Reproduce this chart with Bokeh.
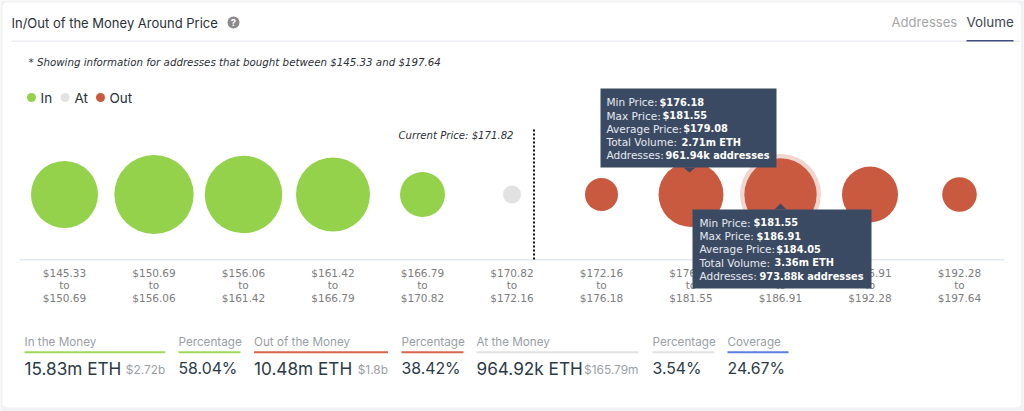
from bokeh.plotting import figure
from bokeh.models import (FactorRange, Range1d, Label, BoxAnnotation, PolyAnnotation, ColumnDataSource)
from bokeh.embed import file_html
from bokeh.resources import INLINE
import math

# ---- data ----
bin_edges = ["145.33", "150.69", "156.06", "161.42", "166.79", "170.82",
             "172.16", "176.18", "181.55", "186.91", "192.28", "197.64"]
volumes = [2.89, 4.04, 3.86, 3.52, 1.30, 0.21, 0.70, 2.71, 3.36, 2.02, 0.77]
status = ["In", "In", "In", "In", "In", "At", "Out", "Out", "Out", "Out", "Out"]
current_price = 171.82
highlight = "$181.55\nto\n$186.91"

tip_a = [("Min Price: ", "$176.18"), ("Max Price: ", "$181.55"), ("Average Price: ", "$179.08"),
         ("Total Volume: ", "2.71m ETH"), ("Addresses: ", "961.94k addresses")]
tip_b = [("Min Price: ", "$181.55"), ("Max Price: ", "$186.91"), ("Average Price: ", "$184.05"),
         ("Total Volume: ", "3.36m ETH"), ("Addresses: ", "973.88k addresses")]

stat_titles = ["In the Money", "Percentage", "Out of the Money", "Percentage",
               "At the Money", "Percentage", "Coverage"]
stat_values = ["15.83m ETH", "58.04%", "10.48m ETH", "38.42%", "964.92k ETH", "3.54%", "24.67%"]
stat_subs = ["$2.72b", "", "$1.8b", "", "$165.79m", "", ""]

# ---- style / layout ----
GREEN, GREY, RED = "#93d24a", "#e2e2e2", "#c95a40"
colour_of = {"In": GREEN, "At": GREY, "Out": RED}
TIP = "#3b4a63"
BODY = "DejaVu Sans"
UI = "Inter"
K = 72.3 / math.sqrt(3.36)
W, H = 1024, 411
FRAME_W = W - 1
PAD = 0.215
CY = 194

cats = [f"${a}\nto\n${b}" for a, b in zip(bin_edges[:-1], bin_edges[1:])]
edges = [float(e) for e in bin_edges]

p = figure(width=W, height=H, output_backend="svg", toolbar_location=None,
           x_range=FactorRange(factors=cats, range_padding=PAD, range_padding_units="absolute"),
           y_range=Range1d(H, 0),
           min_border_left=0, min_border_right=W - FRAME_W, min_border_top=0, min_border_bottom=0,
           outline_line_color=None, background_fill_color="#f1f2f4", border_fill_color="#f1f2f4")
p.grid.visible = False
p.yaxis.visible = False

ax = p.xaxis[0]
ax.fixed_location = 259
ax.axis_line_color = None
ax.major_tick_line_color = None
ax.minor_tick_line_color = None
ax.major_label_text_font = BODY
ax.major_label_text_font_size = "10.5px"
ax.major_label_text_color = "#7d7d7d"
ax.major_label_text_line_height = 1.05
ax.major_label_standoff = 1
ax.major_label_orientation = "horizontal"


def page_x(x):
    # page pixel -> position on the categorical axis
    return x / (FRAME_W / (len(cats) + 2 * PAD)) - PAD


def text(s, x, y, size, color, font=UI, align="left", style="normal"):
    p.add_layout(Label(x=x, y=y, x_units="canvas", y_units="canvas", text=s,
                       text_font=font, text_font_size=f"{size}px", text_color=color,
                       text_align=align, text_baseline="middle", text_font_style=style))


def box(x0, y0, x1, y1, color, level="annotation", radius=0):
    p.add_layout(BoxAnnotation(left=x0, right=x1, top=y0, bottom=y1,
                               left_units="canvas", right_units="canvas",
                               top_units="canvas", bottom_units="canvas",
                               fill_color=color, fill_alpha=1, line_alpha=0,
                               level=level, border_radius=radius))


def tri(xs, ys, color):
    p.add_layout(PolyAnnotation(xs=xs, ys=ys, xs_units="canvas", ys_units="canvas",
                                fill_color=color, fill_alpha=1, line_alpha=0))


# card
box(2, 2, 1020.5, 407, "white", level="underlay", radius=5)
box(19, 258.5, 1004, 260, "#e4e9ef", level="underlay")

src = ColumnDataSource(dict(cat=cats, y=[CY] * len(cats),
                            size=[K * math.sqrt(v) for v in volumes],
                            color=[colour_of[s] for s in status]))
p.scatter(x=[highlight], y=[CY], size=[81], color=RED, alpha=0.25, line_color=None)
p.scatter(x="cat", y="y", size="size", color="color", line_color=None, source=src)

# current price marker, located inside its price bin
i = next(k for k in range(len(cats)) if edges[k] <= current_price < edges[k + 1])
pos = i + (current_price - edges[i]) / (edges[i + 1] - edges[i])
p.line(x=[pos, pos], y=[259, 129], line_color="#111111", line_width=2, line_dash="2 2")

# header
text("In/Out of the Money Around Price", 11, 22, 13, "#2b2f36")
p.scatter(x=[page_x(233)], y=[22], size=12, color="#8a8a8a", line_color=None)
text("?", 233, 22, 9.5, "white", align="center", style="bold")
box(11, 40, 1020, 41.5, "#eceef2")
text("Addresses", 891, 21, 13.1, "#a6a6a6")
text("Volume", 966, 21, 13.4, "#3f4650")
box(966, 39.5, 1013, 41, "#3f4d7d")
text("* Showing information for addresses that bought between $145.33 and $197.64", 28, 61, 10.25, "#2b2f36",
     font=BODY, style="italic")

# legend
for name, dot, lab in (("In", 31, 40), ("At", 64.6, 74), ("Out", 100, 109)):
    p.scatter(x=[page_x(dot)], y=[97], size=9, color=colour_of[name], line_color=None)
    text(name, lab, 97, 13.5, "#2b2f36")

text("Current Price: $171.82", 398, 135, 10.15, "#2b2f36", font=BODY, style="italic")


def tooltip(rows, x0, y0, x1, y1, tx, ty, vx):
    box(x0, y0, x1, y1, TIP)
    for (k, v), yy, vv in zip(rows, [ty + n * 13.3 for n in range(5)], vx):
        text(k, tx, yy, 10.5, "#e6eaf0", font=BODY)
        text(v, vv, yy, 9.8, "#ffffff", font=BODY, style="bold")


tooltip(tip_a, 600, 88, 776, 167, 606, 101.7, [659, 662, 682.7, 681, 665])
tri([683, 695, 689], [167, 167, 172], TIP)
tooltip(tip_b, 692, 209, 871, 288, 699, 222.3, [753, 756, 775.7, 774, 759])
tri([774, 786, 780], [209, 209, 203], TIP)

# footer statistics
stat_cols = [(24, 164.7, "#a0d75a"), (178, 240, "#a0d75a"), (253.5, 387.5, "#d9654f"), (401, 463, "#d9654f"),
             (476, 638, "#e2e2e2"), (652, 714, "#e2e2e2"), (727, 788, "#5b7fe0")]
for title, val, sub, (x0, x1, col) in zip(stat_titles, stat_values, stat_subs, stat_cols):
    text(title, x0, 341.7, 11.7, "#9a9fa5")
    box(x0, 350.7, x1, 352.7, col)
    text(val, x0, 368, 15.8 if val.endswith("%") else 17.2, "#2c3a47")
    if sub:
        text(sub, x1, 369, 11.9, "#9a9fa5", align="right")

open("out.html", "w").write(file_html(p, INLINE))
